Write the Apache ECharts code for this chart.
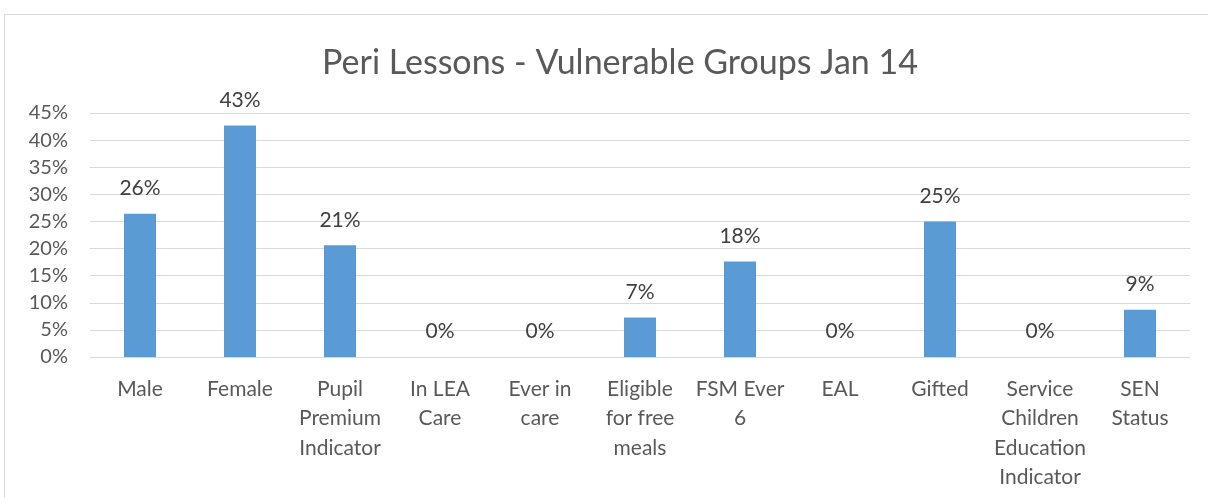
<!DOCTYPE html>
<html>
<head>
<meta charset="utf-8">
<script src="https://cdn.jsdelivr.net/npm/echarts@6/dist/echarts.min.js"></script>
<style>
  html, body { margin: 0; padding: 0; background: #fff; }
  #chart { width: 1208px; height: 498px; }
</style>
</head>
<body>
<div id="chart"></div>
<script>
// data
const categories = [
  'Male', 'Female', 'Pupil\nPremium\nIndicator', 'In LEA\nCare', 'Ever in\ncare',
  'Eligible\nfor free\nmeals', 'FSM Ever\n6', 'EAL', 'Gifted',
  'Service\nChildren\nEducation\nIndicator', 'SEN\nStatus'
];
const values = [26.4, 42.7, 20.6, 0, 0, 7.3, 17.6, 0, 25.0, 0, 8.7];
const yTicks = [0, 5, 10, 15, 20, 25, 30, 35, 40, 45];

const font = 'Lato, "Open Sans", sans-serif';
const textColor = '#595959';

const chart = echarts.init(document.getElementById('chart'));
chart.setOption({
  animation: false,
  title: {
    text: 'Peri Lessons - Vulnerable Groups Jan 14',
    left: 615,
    top: 41,
    textAlign: 'center',
    textStyle: { fontFamily: font, fontSize: 34, fontWeight: 'normal', color: textColor }
  },
  graphic: [{
    type: 'rect',
    shape: { x: 4.5, y: 14.5, width: 1300, height: 600 },
    style: { fill: 'none', stroke: '#d9d9d9', lineWidth: 1 },
    silent: true
  }],
  grid: { left: 90, right: 18, top: 113, bottom: 141, containLabel: false },
  xAxis: {
    type: 'category',
    data: categories,
    axisTick: { show: false },
    axisLine: { lineStyle: { color: '#d9d9d9', width: 1 } },
    axisLabel: {
      interval: 0,
      margin: 17,
      fontFamily: font,
      fontSize: 21,
      lineHeight: 29.5,
      color: textColor
    }
  },
  yAxis: {
    type: 'value',
    min: yTicks[0],
    max: yTicks[yTicks.length - 1],
    interval: 5,
    axisLine: { show: false },
    axisTick: { show: false },
    splitLine: { lineStyle: { color: '#d9d9d9', width: 1 } },
    axisLabel: {
      margin: 22,
      fontFamily: font,
      fontSize: 20,
      color: textColor,
      formatter: v => v + '%'
    }
  },
  series: [{
    type: 'bar',
    data: values,
    barWidth: 32,
    itemStyle: { color: '#5b9bd5' },
    label: {
      show: true,
      position: 'top',
      distance: 15,
      fontFamily: font,
      fontSize: 21,
      color: '#404040',
      formatter: p => Math.round(p.value) + '%'
    }
  }]
});
</script>
</body>
</html>
